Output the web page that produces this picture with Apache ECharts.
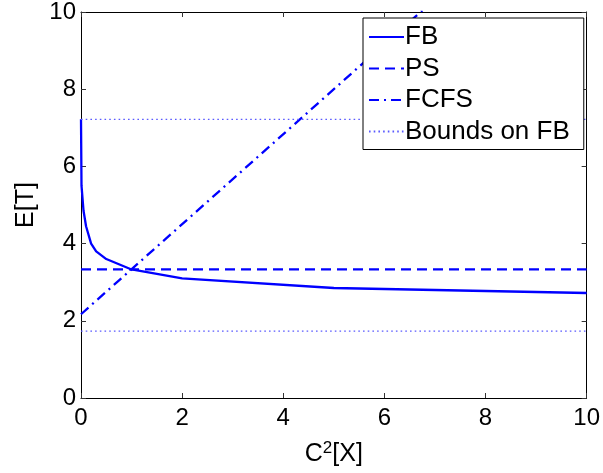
<!DOCTYPE html>
<html>
<head>
<meta charset="utf-8">
<script src="https://cdn.jsdelivr.net/npm/echarts@6/dist/echarts.min.js"></script>
<style>
html,body{margin:0;padding:0;background:#fff;}
#chart{width:603px;height:473px;}
</style>
</head>
<body>
<div id="chart"></div>
<script>
// Data
const fbX = [0, 0.01, 0.05, 0.1, 0.2, 0.3, 0.5, 1, 2, 5, 10];
const fbY = [7.22, 5.5, 4.85, 4.45, 4.0, 3.8, 3.6, 3.33, 3.1, 2.85, 2.72];
const psX = [0, 10];
const psY = [3.33, 3.33];
const fcfsX = [0, 10];
const fcfsY = [2.17, 13.83];
const boundX = [0, 10];
const upperBoundY = [7.22, 7.22];
const lowerBoundY = [1.73, 1.73];
const xTicks = [0, 2, 4, 6, 8, 10];
const yTicks = [0, 2, 4, 6, 8, 10];

function pairs(xs, ys) { return xs.map((x, i) => [x, ys[i]]); }

const FONT = 'Liberation Sans, Arial, Helvetica, sans-serif';
const BLUE = '#0000ff';

const chart = echarts.init(document.getElementById('chart'), null, {renderer: 'canvas'});

const axisCommon = {
  type: 'value',
  min: xTicks[0],
  max: xTicks[xTicks.length - 1],
  interval: xTicks[1] - xTicks[0],
  axisLine: {show: true, onZero: false, lineStyle: {color: '#000', width: 1}},
  axisTick: {show: true, inside: true, length: 5, lineStyle: {color: '#333', width: 1}},
  splitLine: {show: false}
};

const option = {
  backgroundColor: '#fff',
  animation: false,
  grid: {left: 81, right: 16, top: 12, bottom: 75, containLabel: false},
  legend: {
    orient: 'vertical',
    left: 363,
    top: 18,
    padding: [6, 14, 5, 5],
    itemGap: 5.5,
    itemWidth: 35,
    itemHeight: 14,
    backgroundColor: '#fff',
    borderColor: '#000',
    borderWidth: 1,
    borderRadius: 0,
    itemStyle: {opacity: 0},
    textStyle: {fontFamily: FONT, fontSize: 26, color: '#000', padding: [0, 0, 0, -4]},
    data: ['FB', 'PS', 'FCFS', 'Bounds on FB']
  },
  xAxis: [
    Object.assign({}, axisCommon, {
      position: 'bottom',
      name: '{a|C}{sup|2}{a|[X]}',
      nameLocation: 'middle',
      nameGap: 42,
      nameTextStyle: {
        fontFamily: FONT, fontSize: 25, color: '#000',
        rich: {
          a: {fontFamily: FONT, fontSize: 25, color: '#000'},
          sup: {fontFamily: FONT, fontSize: 17, color: '#000', padding: [0, 0, 11, 0]}
        }
      },
      axisLabel: {fontFamily: FONT, fontSize: 24, color: '#000', margin: 8}
    }),
    Object.assign({}, axisCommon, {
      position: 'top',
      axisLabel: {show: false}
    })
  ],
  yAxis: [
    Object.assign({}, axisCommon, {
      min: yTicks[0],
      max: yTicks[yTicks.length - 1],
      interval: yTicks[1] - yTicks[0],
      position: 'left',
      name: 'E[T]',
      nameLocation: 'middle',
      nameGap: 40,
      nameRotate: 90,
      nameTextStyle: {fontFamily: FONT, fontSize: 25, color: '#000'},
      axisLabel: {fontFamily: FONT, fontSize: 24, color: '#000', margin: 5}
    }),
    Object.assign({}, axisCommon, {
      min: yTicks[0],
      max: yTicks[yTicks.length - 1],
      interval: yTicks[1] - yTicks[0],
      position: 'right',
      axisLabel: {show: false}
    })
  ],
  series: [
    {
      name: 'FB', type: 'line', xAxisIndex: 0, yAxisIndex: 0,
      data: pairs(fbX, fbY), symbol: 'none', smooth: false, clip: true,
      lineStyle: {color: BLUE, width: 2.3, type: 'solid'}, itemStyle: {color: BLUE}
    },
    {
      name: 'PS', type: 'line', xAxisIndex: 0, yAxisIndex: 0,
      data: pairs(psX, psY), symbol: 'none', clip: true,
      lineStyle: {color: BLUE, width: 2.3, type: [10, 6]}, itemStyle: {color: BLUE}
    },
    {
      name: 'FCFS', type: 'line', xAxisIndex: 0, yAxisIndex: 0,
      data: pairs(fcfsX, fcfsY), symbol: 'none', clip: true,
      lineStyle: {color: BLUE, width: 2.3, type: [10, 5, 2, 5]}, itemStyle: {color: BLUE}
    },
    {
      name: 'Bounds on FB', type: 'line', xAxisIndex: 0, yAxisIndex: 0,
      data: pairs(boundX, upperBoundY), symbol: 'none', clip: true,
      lineStyle: {color: '#5a5aff', width: 1.3, type: [1.6, 3.1]}, itemStyle: {color: '#5a5aff'}
    },
    {
      name: 'Bounds on FB', type: 'line', xAxisIndex: 0, yAxisIndex: 0,
      data: pairs(boundX, lowerBoundY), symbol: 'none', clip: true,
      lineStyle: {color: '#5a5aff', width: 1.3, type: [1.6, 3.1]}, itemStyle: {color: '#5a5aff'}
    }
  ]
};

chart.setOption(option);
</script>
</body>
</html>
